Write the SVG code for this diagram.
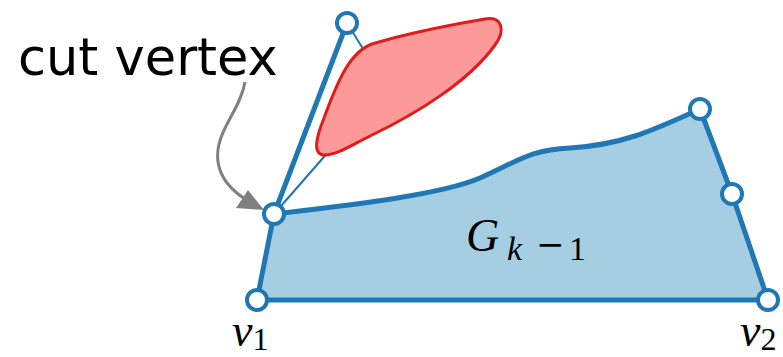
<svg xmlns="http://www.w3.org/2000/svg" width="783" height="357" viewBox="0 0 783 357">
<style>
.node{fill:#fff;stroke:#1f77b4;stroke-width:4}
.math{font-family:"Liberation Serif","DejaVu Serif",serif;font-style:italic;fill:#000}
.num{font-family:"Liberation Serif","DejaVu Serif",serif;font-style:normal;fill:#000}
</style>
<g id="graph">
<path d="M257,300 L274,214 C350,205 440,195 480,178 C520,160 530,150 570,148 C620,145 650,132 700,109 L732,194 L768,300 Z" fill="#a6cee3" stroke="#1f77b4" stroke-width="5" stroke-linejoin="round"/>
</g>
<g id="connectors">
<line x1="274" y1="214" x2="347" y2="23" stroke="#1f77b4" stroke-width="5"/>
<line x1="274" y1="214" x2="330" y2="150" stroke="#1f77b4" stroke-width="2"/>
<line x1="347" y1="23" x2="365" y2="52" stroke="#1f77b4" stroke-width="2"/>
<path d="M245,82 C240,112 214,132 218,162 C221,182 236,194 250,202" fill="none" stroke="#808080" stroke-width="3"/>
<path d="M264,210 L236,208 L248,190 Z" fill="#808080"/>
</g>
<g id="block">
<path d="M325,155 C312,155 316,138 324,118 C338,80 350,52 372,44 C405,34 450,25 485,19 C502,16 506,30 495,45 C470,80 420,112 370,136 C348,147 336,155 325,155 Z" fill="#fb9a99" stroke="#e31a1c" stroke-width="3" stroke-linejoin="round"/>
</g>
<g id="v1"><circle class="node" cx="257" cy="300" r="10"/></g>
<g id="v2"><circle class="node" cx="768" cy="300" r="10"/></g>
<g id="cut"><circle class="node" cx="274" cy="214" r="10"/></g>
<g id="top"><circle class="node" cx="347" cy="23" r="10"/></g>
<g id="ur"><circle class="node" cx="700" cy="109" r="10"/></g>
<g id="rm"><circle class="node" cx="732" cy="194" r="10"/></g>
<g id="labels">
<text x="466" y="251" class="math" font-size="46">G</text>
<text x="507" y="260" class="math" font-size="34">k</text>
<text x="536" y="256" font-family="DejaVu Sans,sans-serif" font-size="34" fill="#000">−</text>
<text x="569" y="260" class="num" font-size="34">1</text>
<text x="18" y="75" font-family="DejaVu Sans,sans-serif" font-size="51" fill="#000">cut vertex</text>
<text x="232" y="346" class="math" font-size="46">v<tspan class="num" font-size="32" dy="4">1</tspan></text>
<text x="740" y="346" class="math" font-size="46">v<tspan class="num" font-size="32" dy="4">2</tspan></text>
</g>
</svg>
